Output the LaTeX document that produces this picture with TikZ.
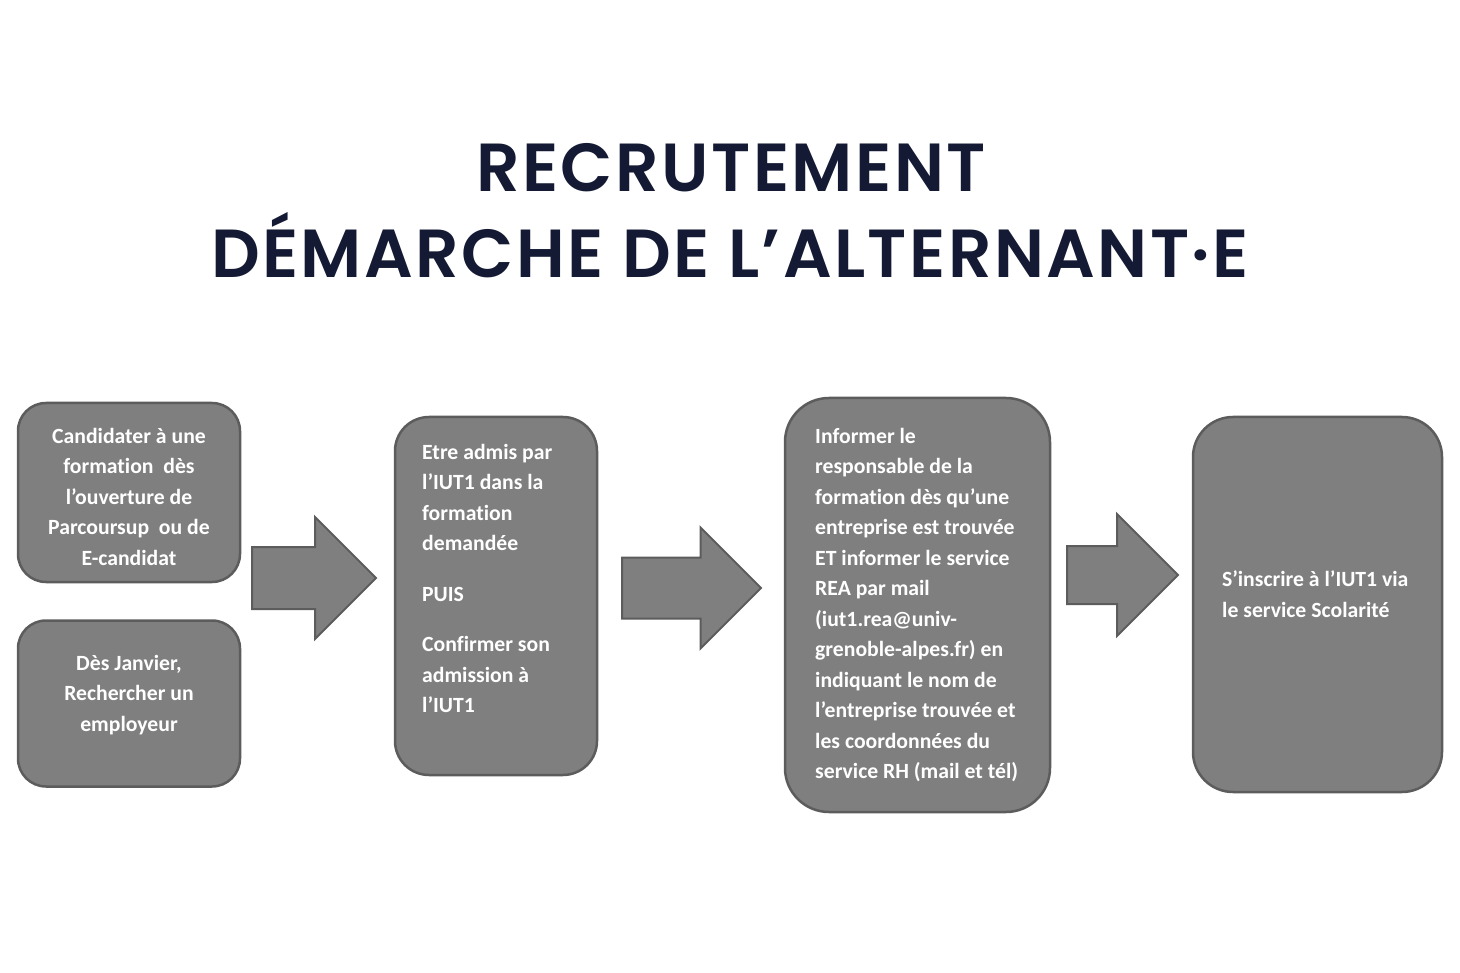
\documentclass[tikz,border=0pt]{standalone}
\usepackage{fontspec}
\setmainfont{Carlito}[Ligatures=CommonOff]
\newfontfamily\titlefont{Poppins}[BoldFont={Poppins SemiBold}, LetterSpace=3.6, WordSpace=1]
\usetikzlibrary{shapes.arrows}
\definecolor{boxgray}{HTML}{7F7F7F}
\definecolor{boxline}{HTML}{5C5C5C}
\definecolor{titleblue}{HTML}{141A33}
\tikzstyle{stepbox} = [rectangle, rounded corners=28pt, draw=boxline, line width=2.5pt, fill=boxgray]
\tikzstyle{steptext} = [inner sep=0pt, text=white, font=\bfseries\fontsize{21.7}{30.5}\selectfont]
\tikzstyle{blockarrow} = [single arrow, single arrow head extend=30pt, inner sep=0pt, text depth=0pt, draw=boxline, line width=2pt, fill=boxgray, anchor=tail]
\tikzstyle{headline} = [inner sep=0pt, anchor=base, text=titleblue, font=\titlefont\bfseries\fontsize{68}{80}\selectfont]
\begin{document}
\begin{tikzpicture}[x=1pt, y=-1pt]
\useasboundingbox (0,0) rectangle (1460,973);

% title
\node (head1) [headline] at (731,192) {RECRUTEMENT};
\node (head2) [headline] at (730,278) {DÉMARCHE DE L’ALTERNANT·E};

% boxes
\node (cand) [stepbox, minimum width=222pt, minimum height=179pt] at (129,492.5) {};
\node (janv) [stepbox, minimum width=222pt, minimum height=166pt] at (129,703.5) {};
\node (admis) [stepbox, minimum width=202pt, minimum height=358pt, rounded corners=34pt] at (496,596) {};
\node (info) [stepbox, minimum width=265pt, minimum height=414pt, rounded corners=44pt] at (917.5,605) {};
\node (inscr) [stepbox, minimum width=249pt, minimum height=375pt, rounded corners=40pt] at (1317.5,604.5) {};

% texts
\node (candtext) [steptext, align=center, anchor=north] at (cand.center |- 0,428) {Candidater à une\\ formation~ dès\\ l’ouverture de\\ Parcoursup~ ou de\\ E-candidat};
\node (janvtext) [steptext, align=center, anchor=north] at (janv.center |- 0,655) {Dès Janvier,\\ Rechercher un\\ employeur};
\node (admistext) [steptext, align=left, anchor=north west] at (422,444) {Etre admis par\\ l’IUT1 dans la\\ formation\\ demandée\\[20pt] PUIS\\[20pt] Confirmer son\\ admission à\\ l’IUT1};
\node (infotext) [steptext, align=left, anchor=north west] at (815,428) {Informer le\\ responsable de la\\ formation dès qu’une\\ entreprise est trouvée\\ ET informer le service\\ REA par mail\\ (iut1.rea@univ-\\ grenoble-alpes.fr) en\\ indiquant le nom de\\ l’entreprise trouvée et\\ les coordonnées du\\ service RH (mail et tél)};
\node (inscrtext) [steptext, align=left, anchor=north west] at (1222,571) {S’inscrire à l’IUT1 via\\ le service Scolarité};

% arrows
\node (arr1) [blockarrow, text height=60pt, minimum height=124pt] at (251,578) {};
\node (arr2) [blockarrow, text height=59pt, minimum height=139pt] at (621,588) {};
\node (arr3) [blockarrow, text height=56pt, minimum height=111pt, single arrow head extend=32pt] at (1066,575) {};

\end{tikzpicture}
\end{document}
